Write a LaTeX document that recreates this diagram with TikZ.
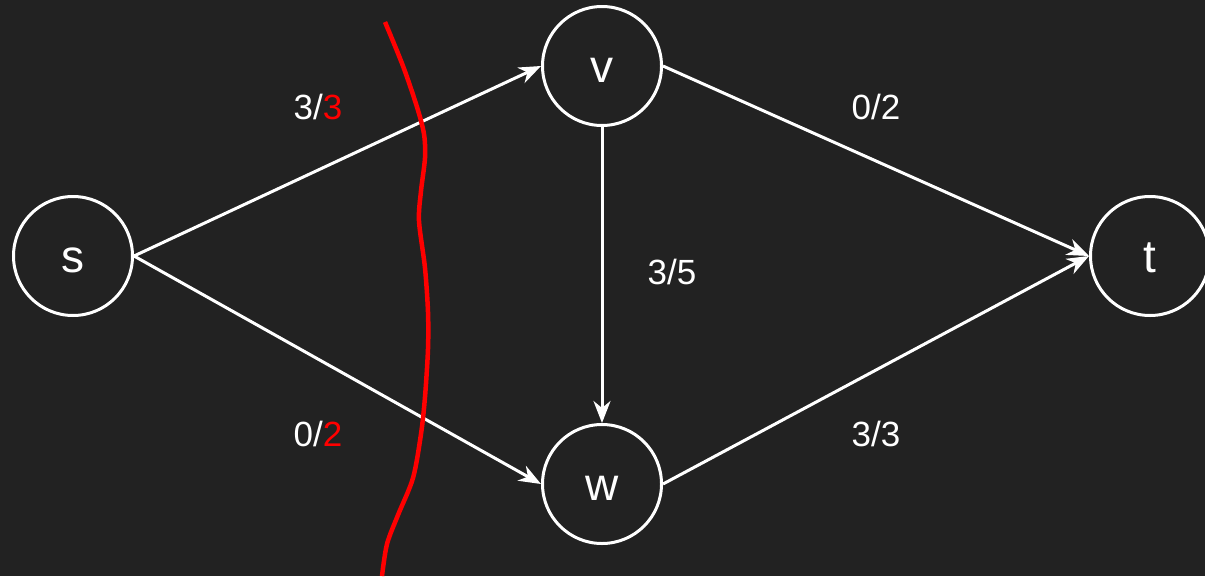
\documentclass[tikz,border=0pt]{standalone}
\usepackage{fontspec}
\usepackage{tikz}
\usepackage{xcolor}
\usetikzlibrary{arrows.meta}
\setmainfont{Liberation Sans}

\definecolor{bg}{HTML}{222222}
\definecolor{cutred}{HTML}{FF0000}

\begin{document}
\begin{tikzpicture}[x=1pt, y=-1pt,
    vertex/.style={draw=white, line width=3pt, circle, minimum size=119pt, inner sep=0pt,
        text height=33pt, text depth=0pt, text=white, font=\fontsize{46}{50}\selectfont},
    flow/.style={text=white, font=\fontsize{35}{40}\selectfont},
    edge/.style={draw=white, line width=3pt, -{Stealth[length=22pt, width=17pt, inset=7pt]}}]
            \fill[bg] (0,0) rectangle (1205,576);
            \useasboundingbox (0,0) rectangle (1205,576);
            \node[vertex] (s) at (73,256) {s};
            \node[vertex] (v) at (602,66) {v};
            \node[vertex] (w) at (602,484) {w};
            \node[vertex] (t) at (1150,256) {t};
            \draw[edge] (s.east) -- (v.west);
            \draw[edge] (s.east) -- (w.west);
            \draw[edge] (v.east) -- (t.west);
            \draw[edge] (w.east) -- (t.west);
            \draw[edge] (v.south) -- (w.north);
            \node[flow] (sv) at (318,107) {3/\textcolor{cutred}{3}};
            \node[flow] (sw) at (318,434) {0/\textcolor{cutred}{2}};
            \node[flow] (vt) at (876,107) {0/2};
            \node[flow] (wt) at (876,434) {3/3};
            \node[flow] (vw) at (672,272) {3/5};
            % the cut
            \draw[cutred, line width=4.5pt] plot[smooth, tension=0.5] coordinates {
                (385,22) (403,66) (417,107) (424,134) (425,158) (421,191) (419,221)
                (425,268) (428,312) (428,349) (425,397) (421,434) (413,478)
                (398,515) (387,544) (382,576)};
        \end{tikzpicture}
\end{document}
